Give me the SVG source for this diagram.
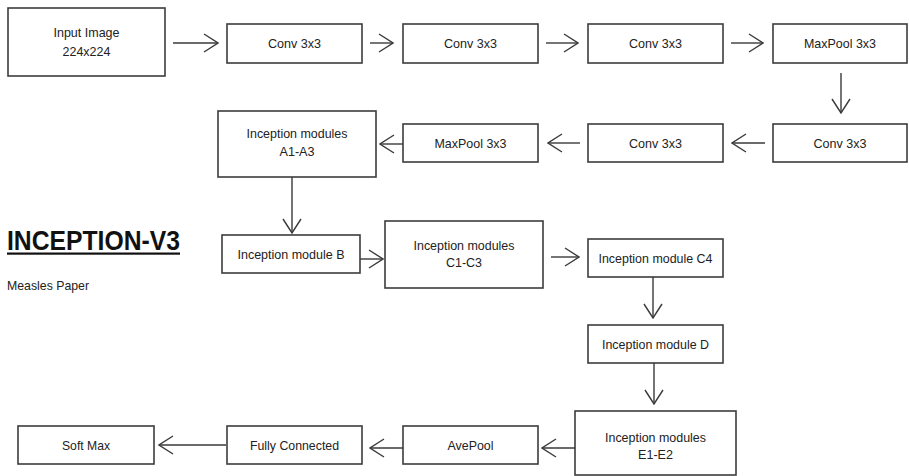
<svg xmlns="http://www.w3.org/2000/svg" width="909" height="476" viewBox="0 0 909 476">
  <defs>
    <marker id="chev" markerUnits="userSpaceOnUse" viewBox="0 0 16 20" markerWidth="16" markerHeight="20" refX="15" refY="10" orient="auto">
      <path d="M1,1 L15,10 L1,19" fill="none" stroke="#3a3a3a" stroke-width="1.4"/>
    </marker>
  </defs>
  <style>
    .box { fill: #ffffff; stroke: #3c3c3c; stroke-width: 1.6; }
    .lbl { font-family: "Liberation Sans", Arial, sans-serif; font-size: 13.4px; fill: #222222; text-anchor: middle; }
    .edge { fill: none; stroke: #3a3a3a; stroke-width: 1.4; marker-end: url(#chev); }
  </style>
  <rect width="909" height="476" fill="#ffffff"/>

  <!-- title -->
  <g id="title">
    <text x="7" y="250" font-family="Liberation Sans, Arial, sans-serif" font-weight="bold" font-size="27" fill="#111111" textLength="173" lengthAdjust="spacingAndGlyphs">INCEPTION-V3</text>
    <rect x="7" y="252.5" width="173" height="2.2" fill="#111111"/>
    <text x="7" y="290" font-family="Liberation Sans, Arial, sans-serif" font-size="13" fill="#222222" textLength="82" lengthAdjust="spacingAndGlyphs">Measles Paper</text>
  </g>

  <!-- row 1 -->
  <g id="input">
    <rect class="box" x="8" y="8" width="157" height="68"/>
    <text class="lbl" x="86.5" y="37" textLength="66" lengthAdjust="spacingAndGlyphs">Input Image</text>
    <text class="lbl" x="86.5" y="56" textLength="48" lengthAdjust="spacingAndGlyphs">224x224</text>
  </g>
  <g id="conv1">
    <rect class="box" x="227" y="24" width="135" height="39"/>
    <text class="lbl" x="294.5" y="48" textLength="53" lengthAdjust="spacingAndGlyphs">Conv 3x3</text>
  </g>
  <g id="conv2">
    <rect class="box" x="403" y="24" width="135" height="39"/>
    <text class="lbl" x="470.5" y="48" textLength="53" lengthAdjust="spacingAndGlyphs">Conv 3x3</text>
  </g>
  <g id="conv3">
    <rect class="box" x="588" y="24" width="135" height="39"/>
    <text class="lbl" x="655.5" y="48" textLength="53" lengthAdjust="spacingAndGlyphs">Conv 3x3</text>
  </g>
  <g id="maxpool1">
    <rect class="box" x="773" y="24" width="134" height="39"/>
    <text class="lbl" x="840" y="48" textLength="72" lengthAdjust="spacingAndGlyphs">MaxPool 3x3</text>
  </g>

  <!-- row 2 -->
  <g id="conv4">
    <rect class="box" x="773" y="124" width="134" height="38"/>
    <text class="lbl" x="840" y="147.5" textLength="53" lengthAdjust="spacingAndGlyphs">Conv 3x3</text>
  </g>
  <g id="conv5">
    <rect class="box" x="588" y="124" width="135" height="38"/>
    <text class="lbl" x="655.5" y="147.5" textLength="53" lengthAdjust="spacingAndGlyphs">Conv 3x3</text>
  </g>
  <g id="maxpool2">
    <rect class="box" x="403" y="124" width="135" height="38"/>
    <text class="lbl" x="470.5" y="147.5" textLength="72" lengthAdjust="spacingAndGlyphs">MaxPool 3x3</text>
  </g>
  <g id="incA">
    <rect class="box" x="218" y="111" width="158" height="66"/>
    <text class="lbl" x="297" y="138" textLength="101" lengthAdjust="spacingAndGlyphs">Inception modules</text>
    <text class="lbl" x="297" y="156" textLength="35" lengthAdjust="spacingAndGlyphs">A1-A3</text>
  </g>

  <!-- row 3 -->
  <g id="incB">
    <rect class="box" x="222" y="235" width="138" height="38"/>
    <text class="lbl" x="291" y="258.5" textLength="107" lengthAdjust="spacingAndGlyphs">Inception module B</text>
  </g>
  <g id="incC">
    <rect class="box" x="385" y="221" width="158" height="67"/>
    <text class="lbl" x="464" y="250" textLength="101" lengthAdjust="spacingAndGlyphs">Inception modules</text>
    <text class="lbl" x="464" y="267" textLength="36" lengthAdjust="spacingAndGlyphs">C1-C3</text>
  </g>
  <g id="incC4">
    <rect class="box" x="588" y="239" width="135" height="38"/>
    <text class="lbl" x="655.5" y="262.5" textLength="114" lengthAdjust="spacingAndGlyphs">Inception module C4</text>
  </g>
  <g id="incD">
    <rect class="box" x="588" y="325" width="135" height="38"/>
    <text class="lbl" x="655.5" y="348.5" textLength="107" lengthAdjust="spacingAndGlyphs">Inception module D</text>
  </g>

  <!-- row 4 -->
  <g id="incE">
    <rect class="box" x="575" y="411" width="161" height="64"/>
    <text class="lbl" x="655.5" y="442" textLength="101" lengthAdjust="spacingAndGlyphs">Inception modules</text>
    <text class="lbl" x="655.5" y="459" textLength="35" lengthAdjust="spacingAndGlyphs">E1-E2</text>
  </g>
  <g id="avepool">
    <rect class="box" x="403" y="426" width="135" height="38"/>
    <text class="lbl" x="470.5" y="449.5" textLength="46" lengthAdjust="spacingAndGlyphs">AvePool</text>
  </g>
  <g id="fc">
    <rect class="box" x="227" y="426" width="135" height="38"/>
    <text class="lbl" x="294.5" y="449.5" textLength="89" lengthAdjust="spacingAndGlyphs">Fully Connected</text>
  </g>
  <g id="softmax">
    <rect class="box" x="18" y="426" width="136" height="38"/>
    <text class="lbl" x="86" y="449.5" textLength="48" lengthAdjust="spacingAndGlyphs">Soft Max</text>
  </g>

  <!-- connectors -->
  <g id="connectors">
    <line class="edge" x1="173" y1="43" x2="218" y2="43"/>
    <line class="edge" x1="370" y1="43" x2="393" y2="43"/>
    <line class="edge" x1="546" y1="43" x2="578" y2="43"/>
    <line class="edge" x1="731" y1="43" x2="763" y2="43"/>
    <line class="edge" x1="841" y1="73" x2="841" y2="113"/>
    <line class="edge" x1="765" y1="143" x2="732" y2="143"/>
    <line class="edge" x1="580" y1="143" x2="548" y2="143"/>
    <line class="edge" x1="403" y1="144" x2="380" y2="144"/>
    <line class="edge" x1="292" y1="177" x2="292" y2="233"/>
    <line class="edge" x1="360" y1="259" x2="383" y2="259"/>
    <line class="edge" x1="551" y1="257" x2="579" y2="257"/>
    <line class="edge" x1="653" y1="277" x2="653" y2="318"/>
    <line class="edge" x1="654" y1="363" x2="654" y2="404"/>
    <line class="edge" x1="575" y1="448" x2="542" y2="448"/>
    <line class="edge" x1="403" y1="448" x2="370" y2="448"/>
    <line class="edge" x1="226" y1="445" x2="159" y2="445"/>
  </g>
</svg>
